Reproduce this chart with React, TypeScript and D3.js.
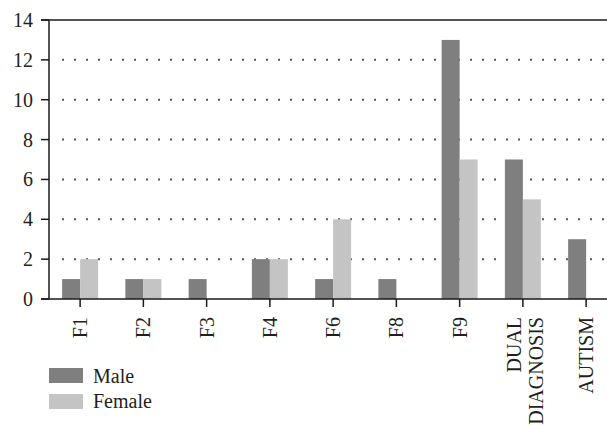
import React from "react";
import * as d3 from "d3";

const categories = ["F1", "F2", "F3", "F4", "F6", "F8", "F9", "DUAL DIAGNOSIS", "AUTISM"];
const categoryLines = [["F1"], ["F2"], ["F3"], ["F4"], ["F6"], ["F8"], ["F9"], ["DUAL", "DIAGNOSIS"], ["AUTISM"]];
const maleValues = [1, 1, 1, 2, 1, 1, 13, 7, 3];
const femaleValues = [2, 1, 0, 2, 4, 0, 7, 5, 0];
const yTicks = [0, 2, 4, 6, 8, 10, 12, 14];
const seriesNames = ["Male", "Female"];
const seriesColors = ["#7f7f7f", "#c4c4c4"];

const W = 607;
const H = 425;
const FONT = '"Liberation Serif", Tinos, "Times New Roman", "DejaVu Serif", serif';

export default function App() {
  const x = d3.scaleBand<string>().domain(categories).range([48.5, 617.75]).padding(0);
  const y = d3.scaleLinear().domain([0, 14]).range([299, 20]);
  const barW = 18;
  const left = 49;
  const txt = { fontFamily: FONT, fontSize: "20px" };

  return (
    <svg width={W} height={H} style={{ position: "absolute", left: 0, top: 0, background: "#fff" }}>
      <rect x={0} y={0} width={W} height={H} fill="#fff" />
      {yTicks.filter((t) => t > 0 && t < 14).map((t) => (
        <line key={"g" + t} x1={62} x2={W} y1={y(t)} y2={y(t)} stroke="#555" strokeWidth={2} strokeDasharray="2 10" />
      ))}
      {categories.map((c, i) => {
        const cx = x(c)! + x.bandwidth() / 2;
        return (
          <g key={c}>
            {maleValues[i] > 0 && (
              <rect x={cx - barW} y={y(maleValues[i])} width={barW} height={y(0) - y(maleValues[i])} fill={seriesColors[0]} />
            )}
            {femaleValues[i] > 0 && (
              <rect x={cx} y={y(femaleValues[i])} width={barW} height={y(0) - y(femaleValues[i])} fill={seriesColors[1]} />
            )}
          </g>
        );
      })}
      <line x1={left} x2={left} y1={y(14)} y2={y(0)} stroke="#1a1a1a" strokeWidth={1.5} />
      <line x1={41} x2={W} y1={y(14)} y2={y(14)} stroke="#1a1a1a" strokeWidth={1.5} />
      <line x1={41} x2={W} y1={y(0)} y2={y(0)} stroke="#1a1a1a" strokeWidth={1.5} />
      {yTicks.map((t) => (
        <g key={"yt" + t}>
          <line x1={41} x2={left} y1={y(t)} y2={y(t)} stroke="#1a1a1a" strokeWidth={1.5} />
          <text x={33} y={y(t)} dy="0.35em" textAnchor="end" style={txt} fill="#231f20">
            {t}
          </text>
        </g>
      ))}
      {categories.map((c, i) => {
        const cx = x(c)! + x.bandwidth() / 2;
        const lines = categoryLines[i];
        return (
          <g key={"xt" + c}>
            <line x1={cx} x2={cx} y1={y(0)} y2={y(0) + 8} stroke="#1a1a1a" strokeWidth={1.5} />
            {lines.map((l, j) => (
              <text
                key={l}
                transform={`translate(${cx},317) rotate(-90)`}
                dy={lines.length === 1 ? 7 : -2 + j * 22}
                textAnchor="end"
                style={txt}
                fill="#231f20"
              >
                {l}
              </text>
            ))}
          </g>
        );
      })}
      {seriesNames.map((s, i) => (
        <g key={s}>
          <rect x={49} y={368 + i * 26} width={34} height={15} fill={seriesColors[i]} />
          <text x={93} y={383 + i * 25} style={txt} fill="#231f20">
            {s}
          </text>
        </g>
      ))}
    </svg>
  );
}
